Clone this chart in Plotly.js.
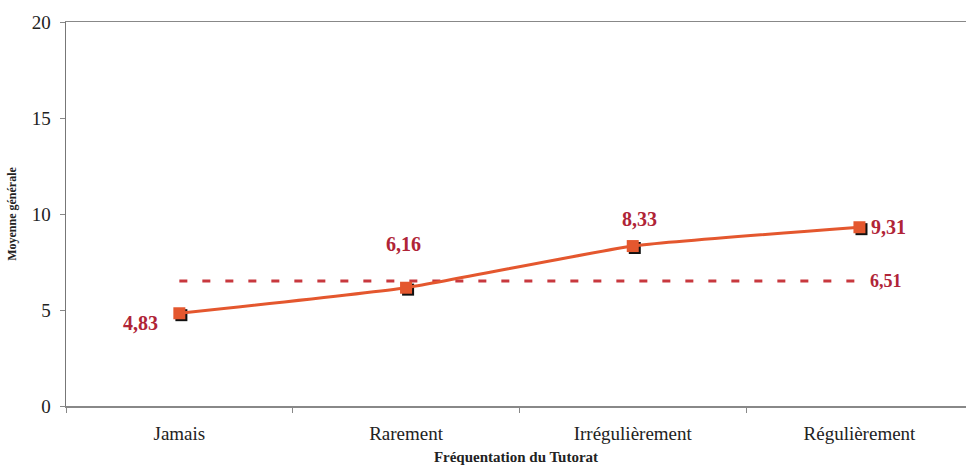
<!DOCTYPE html>
<html><head><meta charset="utf-8">
<script src="https://cdn.plot.ly/plotly-3.0.1.min.js"></script>
<style>html,body{margin:0;padding:0;background:#fff;overflow:hidden}</style>
</head><body><div id="chart" style="width:966px;height:466px"></div>
<script>
const categories = ["Jamais", "Rarement", "Irrégulièrement", "Régulièrement"];
const moyennes = [4.83, 6.16, 8.33, 9.31];
const labels = ["4,83", "6,16", "8,33", "9,31"];
const moyenneGlobale = 6.51;
const moyenneGlobaleLabel = "6,51";

const orange = "#E4572E";
const labelRed = "#B02437";
const serif = "Liberation Serif, Times New Roman, serif";

const traces = [
  // shadow squares on base (hidden, slightly shifted) axes
  { x: categories, y: moyennes, type: "scatter", mode: "markers", xaxis: "x", yaxis: "y",
    marker: { symbol: "square", size: 12, color: "#111" }, hoverinfo: "skip" },
  { x: [categories[0], categories[categories.length-1]], y: [moyenneGlobale, moyenneGlobale],
    type: "scatter", mode: "lines", xaxis: "x2", yaxis: "y2",
    line: { color: "#C8383E", width: 3, dash: "8px,15px" }, hoverinfo: "skip" },
  { x: categories, y: moyennes, type: "scatter", mode: "lines+markers", xaxis: "x2", yaxis: "y2",
    line: { color: orange, width: 3, shape: "spline", smoothing: 0.4 },
    marker: { symbol: "square", size: 12, color: orange } }
];

const offs = [
  { xanchor: "right", xshift: -19, yshift: -10 },
  { xanchor: "center", xshift: -3, yshift: 44 },
  { xanchor: "center", xshift: 7, yshift: 27 },
  { xanchor: "left", xshift: 10, yshift: 0 }
];
const annotations = categories.map((c, i) => Object.assign({
  x: c, y: moyennes[i], xref: "x2", yref: "y2", text: labels[i], showarrow: false,
  yanchor: "middle", font: { family: serif, size: 20, color: labelRed, weight: "bold" }
}, offs[i]));
annotations.push({ x: categories[categories.length-1], y: moyenneGlobale, xref: "x2", yref: "y2",
  text: moyenneGlobaleLabel, showarrow: false, xanchor: "left", xshift: 9, yanchor: "middle",
  font: { family: serif, size: 18, color: labelRed, weight: "bold" } });

const xr = [-0.5, 3.47];
const layout = {
  width: 966, height: 466,
  margin: { l: 66, r: 0, t: 22, b: 60, autoexpand: false },
  paper_bgcolor: "#ffffff", plot_bgcolor: "#ffffff",
  showlegend: false,
  font: { family: serif, color: "#222" },
  xaxis: { type: "category", categoryorder: "array", categoryarray: categories,
           range: [xr[0] - 0.009, xr[1] - 0.009], visible: false, fixedrange: true },
  yaxis: { range: [0.1, 20.1], visible: false, fixedrange: true },
  xaxis2: {
    type: "category", categoryorder: "array", categoryarray: categories, overlaying: "x",
    range: xr, tickson: "boundaries", side: "bottom",
    showgrid: false, zeroline: false, showline: true, mirror: true,
    linecolor: "#888", linewidth: 1.5, ticks: "outside", ticklen: 5, tickcolor: "#888",
    ticklabelstandoff: 10,
    tickfont: { family: serif, size: 19, color: "#222" },
    title: { text: "Fréquentation du Tutorat", standoff: 8,
             font: { family: serif, size: 15, color: "#222", weight: "bold" } }
  },
  yaxis2: {
    overlaying: "y", side: "left",
    range: [0, 20], dtick: 5, tick0: 0,
    showgrid: false, zeroline: false, showline: true,
    linecolor: "#777", linewidth: 1.5, ticks: "outside", ticklen: 5, tickcolor: "#888",
    ticklabelstandoff: 5,
    tickfont: { family: serif, size: 19, color: "#222" },
    title: { text: "Moyenne générale", standoff: 12,
             font: { family: serif, size: 12, color: "#222", weight: "bold" } }
  },
  annotations: annotations
};

Plotly.newPlot("chart", traces, layout, { displayModeBar: false, staticPlot: true });
</script></body></html>
